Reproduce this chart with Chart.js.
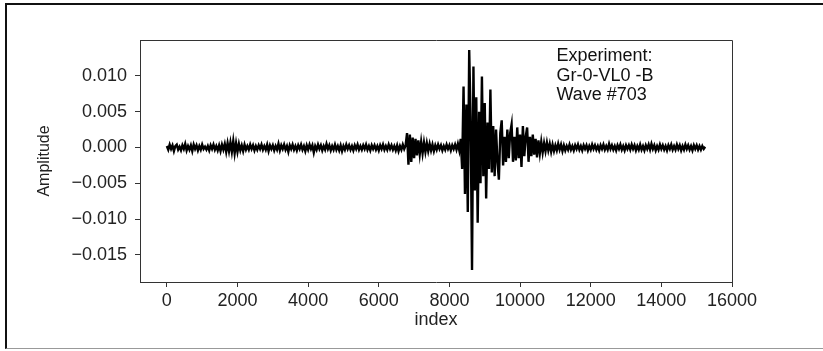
<!DOCTYPE html>
<html>
<head>
<meta charset="utf-8">
<script src="https://cdn.jsdelivr.net/npm/chart.js@4/dist/chart.umd.min.js"></script>
<style>
  html, body { margin: 0; padding: 0; background: #fff; overflow: hidden; }
  #frame {
    position: absolute; left: 5px; top: 3px; width: 900px; height: 343px;
    border-top: 2px solid #111; border-left: 2px solid #111; border-bottom: 1.5px solid #999;
  }
  #wrap { position: absolute; left: 0; top: 0; width: 823px; height: 351px; }
</style>
</head>
<body>
<div id="frame"></div>
<div id="wrap"><canvas id="waveChart" width="823" height="351"></canvas></div>
<script>
// samples are 40 index steps apart
const SAMPLE_STEP = 40;

// index 0 .. 6760: background noise
const quietStart = [
  0.0002, -0.0003, 0.0004, -0.0002, 0.0003, -0.0005, 0.0002, 0.0004, -0.0003, 0.0001,
  -0.0004, 0.0003, -0.0002, 0.0005, -0.0004, 0.0002, -0.0003, 0.0003, -0.0005, 0.0004,
  -0.0002, 0.0003, -0.0004, 0.0002, -0.0003, 0.0004, -0.0002, 0.0001, -0.0003, 0.0002,
  -0.0004, 0.0003, -0.0002, 0.0004, -0.0003, 0.0002, -0.0004, 0.0003, -0.0005, 0.0004,
  -0.0003, 0.0005, -0.0006, 0.0006, -0.0005, 0.0007, -0.0006, 0.0009, -0.0008, 0.0006,
  -0.0006, 0.0005, -0.0004, 0.0003, -0.0005, 0.0004, -0.0003, 0.0002, -0.0003, 0.0004,
  -0.0002, 0.0003, -0.0004, 0.0002, -0.0003, 0.0003, -0.0002, 0.0004, -0.0003, 0.0002,
  -0.0003, 0.0004, -0.0005, 0.0003, -0.0002, 0.0003, -0.0004, 0.0002, -0.0003, 0.0005,
  -0.0004, 0.0003, -0.0002, 0.0004, -0.0003, 0.0002, -0.0006, 0.0003, -0.0002, 0.0004,
  -0.0003, 0.0002, -0.0004, 0.0003, -0.0002, 0.0004, -0.0003, 0.0002, -0.0005, 0.0003,
  -0.0003, 0.0004, -0.0002, 0.0003, -0.0007, 0.0002, -0.0003, 0.0004, -0.0002, 0.0003,
  -0.0004, 0.0002, -0.0003, 0.0005, -0.0002, 0.0003, -0.0004, 0.0002, -0.0003, 0.0004,
  -0.0003, 0.0002, -0.0004, 0.0003, -0.0005, 0.0002, -0.0003, 0.0004, -0.0002, 0.0003,
  -0.0003, 0.0002, -0.0004, 0.0003, -0.0002, 0.0004, -0.0003, 0.0002, -0.0003, 0.0003,
  -0.0002, 0.0004, -0.0003, 0.0002, -0.0004, 0.0003, -0.0002, 0.0003, -0.0003, 0.0002,
  -0.0004, 0.0003, -0.0002, 0.0004, -0.0003, 0.0002, -0.0003, 0.0004, -0.0002, 0.0003,
  -0.0003, 0.0002, -0.0004, 0.0003, -0.0005, 0.0002, -0.0003, 0.0004, -0.0002, 0.0003
];
// index 6800 .. 7600: first small arrival
const firstArrival = [
  0.0020, -0.0024, 0.0018, -0.0020, 0.0014, -0.0015, 0.0012, -0.0011, 0.0010, -0.0009,
  0.0008, -0.0008, 0.0007, -0.0006, 0.0006, -0.0005, 0.0005, -0.0004, 0.0004, -0.0005, 0.0003
];
// index 7640 .. 8280
const quietMid = [
  -0.0003, 0.0004, -0.0002, 0.0003, -0.0004, 0.0002, -0.0003, 0.0004, -0.0002, 0.0003,
  -0.0004, 0.0003, -0.0002, 0.0004, -0.0003, 0.0005, -0.0004
];
// index 8320 .. 10600: main burst
const mainBurst = [
  0.0012, -0.0030, 0.0085, -0.0065, 0.0060, -0.0090, 0.0136, 0.0040, -0.0171, 0.0113,
  -0.0060, 0.0070, -0.0105, 0.0050, -0.0050, 0.0099, -0.0040, 0.0062, -0.0071, 0.0035,
  -0.0030, 0.0081, -0.0035, 0.0030, -0.0040, 0.0025, -0.0020, -0.0045, 0.0020, 0.0038,
  -0.0025, 0.0015, -0.0020, 0.0025, -0.0015, 0.0020, 0.0032, -0.0020, 0.0015, -0.0018,
  0.0028, -0.0015, 0.0018, -0.0027, 0.0030, -0.0012, 0.0015, 0.0028, -0.0020, 0.0015,
  -0.0012, 0.0018, -0.0010, 0.0012, -0.0014, 0.0010, -0.0008, 0.0008
];
// index 10640 .. 15240: coda and noise
const coda = [
  -0.0007, 0.0006, -0.0005, 0.0007, -0.0004, 0.0005, -0.0006, 0.0004, -0.0005, 0.0003,
  -0.0004, 0.0005, -0.0003, 0.0004, -0.0005, 0.0003, -0.0004, 0.0002, -0.0003, 0.0004,
  -0.0003, 0.0002, -0.0004, 0.0003, -0.0002, 0.0004, -0.0003, 0.0002, -0.0004, 0.0003,
  -0.0002, 0.0003, -0.0004, 0.0002, -0.0003, 0.0004, -0.0002, 0.0003, -0.0003, 0.0002,
  -0.0004, 0.0003, -0.0002, 0.0004, -0.0003, 0.0002, -0.0003, 0.0005, -0.0002, 0.0003,
  -0.0003, 0.0002, -0.0004, 0.0003, -0.0002, 0.0004, -0.0003, 0.0002, -0.0004, 0.0003,
  -0.0002, 0.0003, -0.0003, 0.0004, -0.0002, 0.0003, -0.0004, 0.0002, -0.0003, 0.0004,
  -0.0003, 0.0002, -0.0004, 0.0003, -0.0002, 0.0004, -0.0003, 0.0005, -0.0002, 0.0003,
  -0.0004, 0.0002, -0.0003, 0.0004, -0.0002, 0.0003, -0.0003, 0.0002, -0.0004, 0.0003,
  -0.0002, 0.0004, -0.0003, 0.0002, -0.0003, 0.0004, -0.0002, 0.0003, -0.0004, 0.0002,
  -0.0003, 0.0004, -0.0002, 0.0003, -0.0003, 0.0002, -0.0004, 0.0003, -0.0002, 0.0003,
  -0.0003, 0.0002, -0.0003, 0.0002, -0.0002, 0.0001
];

const xTicks = [0, 2000, 4000, 6000, 8000, 10000, 12000, 14000, 16000];
const yTicks = [-0.015, -0.010, -0.005, 0.000, 0.005, 0.010];
const infoLines = ['Experiment:', 'Gr-0-VL0 -B', 'Wave #703'];

const amplitude = [].concat(quietStart, firstArrival, quietMid, mainBurst, coda);
const points = amplitude.map((v, i) => ({ x: i * SAMPLE_STEP, y: v }));

const FONT = 'Liberation Sans, Arial, Helvetica, sans-serif';
const AXIS = '#333';

// top and right spines + info text
const extrasPlugin = {
  id: 'extras',
  afterDraw(chart) {
    const { ctx, chartArea: a, scales } = chart;
    ctx.save();
    ctx.strokeStyle = AXIS;
    ctx.lineWidth = 1;
    ctx.beginPath();
    ctx.moveTo(Math.round(a.left) + 0.5, Math.round(a.top) + 0.5);
    ctx.lineTo(Math.round(a.right) + 0.5, Math.round(a.top) + 0.5);
    ctx.lineTo(Math.round(a.right) + 0.5, Math.round(a.bottom) + 0.5);
    ctx.stroke();

    ctx.fillStyle = '#111';
    ctx.font = '18px ' + FONT;
    ctx.textBaseline = 'alphabetic';
    const tx = scales.x.getPixelForValue(11030);
    const ty = scales.y.getPixelForValue(0.0120);
    infoLines.forEach((t, i) => ctx.fillText(t, tx, ty + i * 19.5));
    ctx.restore();
  }
};

new Chart(document.getElementById('waveChart'), {
  type: 'line',
  data: {
    datasets: [{
      data: points,
      borderColor: '#000',
      borderWidth: 2.4,
      pointRadius: 0,
      tension: 0,
      fill: false
    }]
  },
  options: {
    responsive: false,
    animation: false,
    events: [],
    layout: { padding: { top: 40, right: 91, left: 0, bottom: 0 } },
    plugins: { legend: { display: false }, tooltip: { enabled: false } },
    scales: {
      x: {
        type: 'linear',
        min: -760,
        max: 16000,
        afterFit: s => { s.height = 69; },
        afterBuildTicks: s => { s.ticks = xTicks.map(v => ({ value: v })); },
        grid: { drawOnChartArea: false, drawTicks: true, tickLength: 5, color: AXIS },
        border: { display: true, color: AXIS, width: 1 },
        ticks: {
          color: '#222', font: { family: FONT, size: 18 }, padding: 3, maxRotation: 0, autoSkip: false,
          callback: v => String(v)
        },
        title: { display: true, text: 'index', color: '#222', font: { family: FONT, size: 18 }, padding: { top: 0, bottom: 20 } }
      },
      y: {
        min: -0.01877,
        max: 0.0150,
        afterFit: s => { s.width = 140; },
        afterBuildTicks: s => { s.ticks = yTicks.map(v => ({ value: v })); },
        grid: { drawOnChartArea: false, drawTicks: true, tickLength: 5, color: AXIS },
        border: { display: true, color: AXIS, width: 1 },
        ticks: {
          color: '#222', font: { family: FONT, size: 18 }, padding: 8, autoSkip: false,
          callback: v => v.toFixed(3).replace('-', '\u2212')
        },
        title: { display: true, text: 'Amplitude', color: '#222', font: { family: FONT, size: 16 }, padding: { top: 35, bottom: 0 } }
      }
    }
  },
  plugins: [extrasPlugin]
});
</script>
</body>
</html>
